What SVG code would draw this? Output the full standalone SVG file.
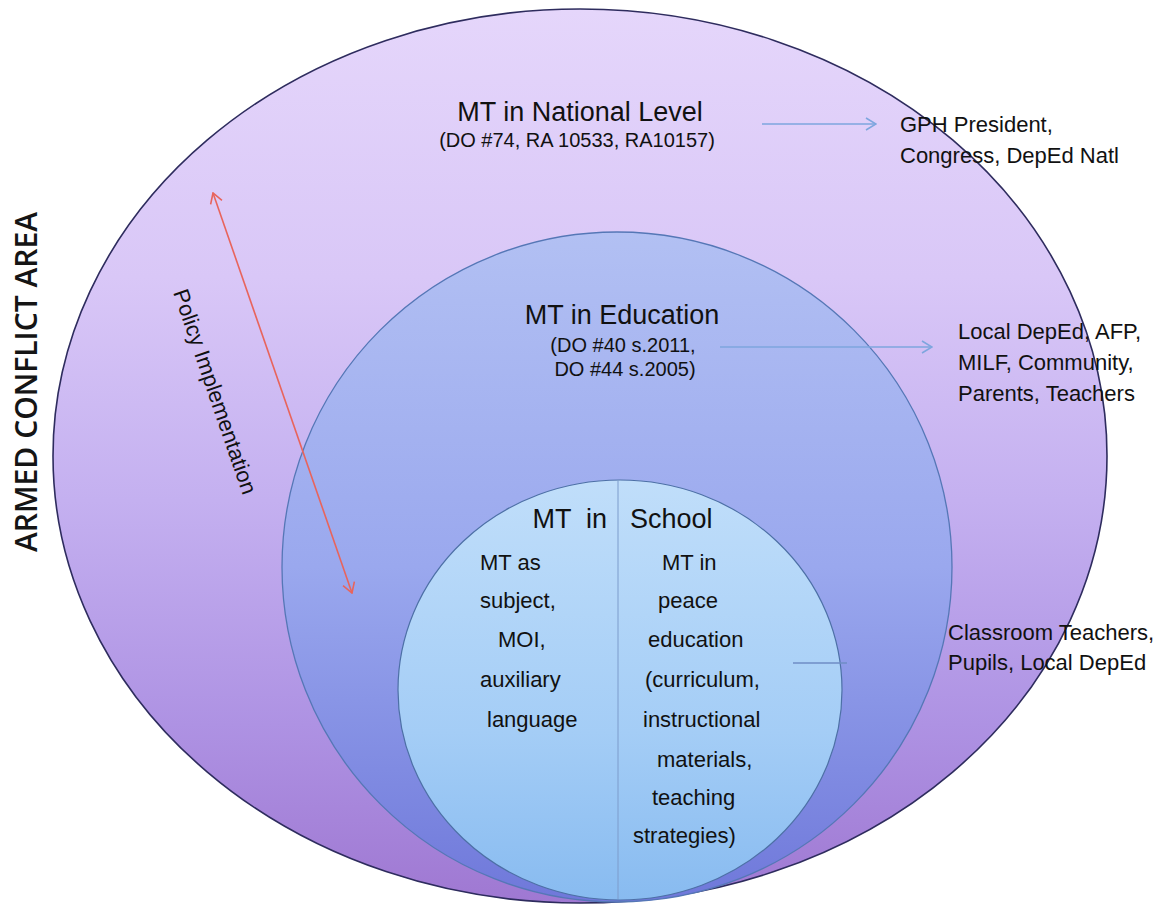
<svg xmlns="http://www.w3.org/2000/svg" width="1171" height="909" viewBox="0 0 1171 909">
  <style>
    .lbl { font-family: "Liberation Sans", Arial, sans-serif; fill: #111; }
    .title { font-size: 27px; }
    .ref { font-size: 20px; }
    .side { font-size: 22px; }
    .col { font-size: 22px; }
    .area { font-family: "Open Sans", "Liberation Sans", sans-serif; font-weight: 600; font-size: 30px; fill: #151515; }
    .blue-arrow { stroke: #7ea6de; stroke-width: 1.6; fill: none; }
    .red-arrow { stroke: #e8645c; stroke-width: 1.6; fill: none; }
  </style>
  <defs>
    <linearGradient id="gOuter" x1="0" y1="0" x2="0" y2="1">
      <stop offset="0" stop-color="#e5d6fb"/>
      <stop offset="0.3" stop-color="#d9c7f7"/>
      <stop offset="0.55" stop-color="#c4b0f0"/>
      <stop offset="0.8" stop-color="#ae92e3"/>
      <stop offset="1" stop-color="#9f78d2"/>
    </linearGradient>
    <linearGradient id="gMid" x1="0" y1="0" x2="0" y2="1">
      <stop offset="0" stop-color="#b2c0f3"/>
      <stop offset="0.5" stop-color="#9aa8ee"/>
      <stop offset="1" stop-color="#6f78da"/>
    </linearGradient>
    <linearGradient id="gInner" x1="0" y1="0" x2="0" y2="1">
      <stop offset="0" stop-color="#c0defa"/>
      <stop offset="0.6" stop-color="#a4cdf6"/>
      <stop offset="1" stop-color="#88bbf0"/>
    </linearGradient>
    <marker id="headBlue" viewBox="0 0 12 14" refX="11" refY="7" markerWidth="12" markerHeight="14" markerUnits="userSpaceOnUse" orient="auto">
      <path d="M1,1 L11,7 L1,13" fill="none" stroke="#7ea6de" stroke-width="1.6"/>
    </marker>
    <marker id="headRed" viewBox="0 0 12 14" refX="11" refY="7" markerWidth="12" markerHeight="14" markerUnits="userSpaceOnUse" orient="auto-start-reverse">
      <path d="M1,1 L11,7 L1,13" fill="none" stroke="#e8645c" stroke-width="1.6"/>
    </marker>
  </defs>

  <rect width="1171" height="909" fill="#ffffff"/>

  <!-- outermost zone: national level -->
  <g id="national-level">
    <ellipse cx="580" cy="456" rx="527" ry="447" fill="url(#gOuter)" stroke="#2e2c5e" stroke-width="1.6"/>
    <text class="lbl title" x="580" y="121" text-anchor="middle">MT in National Level</text>
    <text class="lbl ref" x="577" y="147" text-anchor="middle">(DO #74, RA 10533, RA10157)</text>
  </g>

  <!-- middle zone: education -->
  <g id="education">
    <circle cx="617" cy="567" r="335" fill="url(#gMid)" stroke="#5577b6" stroke-width="1.3"/>
    <text class="lbl title" x="622" y="324" text-anchor="middle">MT in Education</text>
    <text class="lbl ref" x="623" y="352" text-anchor="middle">(DO #40 s.2011,</text>
    <text class="lbl ref" x="625" y="376" text-anchor="middle">DO #44 s.2005)</text>
  </g>

  <!-- inner zone: school -->
  <g id="school">
    <ellipse cx="620" cy="690" rx="222" ry="210" fill="url(#gInner)" stroke="#4d70a6" stroke-width="1.2"/>
    <line x1="618" y1="481" x2="618" y2="899" stroke="#7d9ccc" stroke-width="1"/>
    <text class="lbl title" x="607" y="528" text-anchor="end" xml:space="preserve">MT  in</text>
    <text class="lbl title" x="630" y="528">School</text>
    <g id="school-left">
      <text class="lbl col" x="480" y="570">MT as</text>
      <text class="lbl col" x="480" y="608">subject,</text>
      <text class="lbl col" x="498" y="647">MOI,</text>
      <text class="lbl col" x="480" y="687">auxiliary</text>
      <text class="lbl col" x="487" y="727">language</text>
    </g>
    <g id="school-right">
      <text class="lbl col" x="662" y="570">MT in</text>
      <text class="lbl col" x="658" y="608">peace</text>
      <text class="lbl col" x="648" y="647">education</text>
      <text class="lbl col" x="645" y="687">(curriculum,</text>
      <text class="lbl col" x="643" y="727">instructional</text>
      <text class="lbl col" x="657" y="767">materials,</text>
      <text class="lbl col" x="652" y="805">teaching</text>
      <text class="lbl col" x="633" y="843">strategies)</text>
    </g>
  </g>

  <!-- stakeholders for each level -->
  <g id="stakeholders-national">
    <text class="lbl side" x="900" y="132">GPH President,</text>
    <text class="lbl side" x="900" y="163">Congress, DepEd Natl</text>
  </g>
  <g id="stakeholders-education">
    <text class="lbl side" x="958" y="339">Local DepEd, AFP,</text>
    <text class="lbl side" x="958" y="370">MILF, Community,</text>
    <text class="lbl side" x="958" y="401">Parents, Teachers</text>
  </g>
  <g id="stakeholders-school">
    <text class="lbl side" x="948" y="640">Classroom Teachers,</text>
    <text class="lbl side" x="948" y="670">Pupils, Local DepEd</text>
  </g>

  <!-- side captions -->
  <g id="area-caption">
    <text class="area" transform="translate(37,382) rotate(-90)" text-anchor="middle">ARMED CONFLICT AREA</text>
  </g>
  <g id="policy-caption">
    <text class="lbl side" transform="translate(208,394) rotate(71)" text-anchor="middle">Policy Implementation</text>
  </g>

  <!-- connectors -->
  <g id="connectors">
    <line class="blue-arrow" x1="762" y1="124" x2="876" y2="124" marker-end="url(#headBlue)"/>
    <line class="blue-arrow" x1="720" y1="347" x2="932" y2="347" marker-end="url(#headBlue)"/>
    <line x1="793" y1="663" x2="847" y2="663" stroke="#6f8dc6" stroke-width="1.3"/>
    <line class="red-arrow" x1="213" y1="193" x2="352" y2="593" marker-start="url(#headRed)" marker-end="url(#headRed)"/>
  </g>
</svg>
